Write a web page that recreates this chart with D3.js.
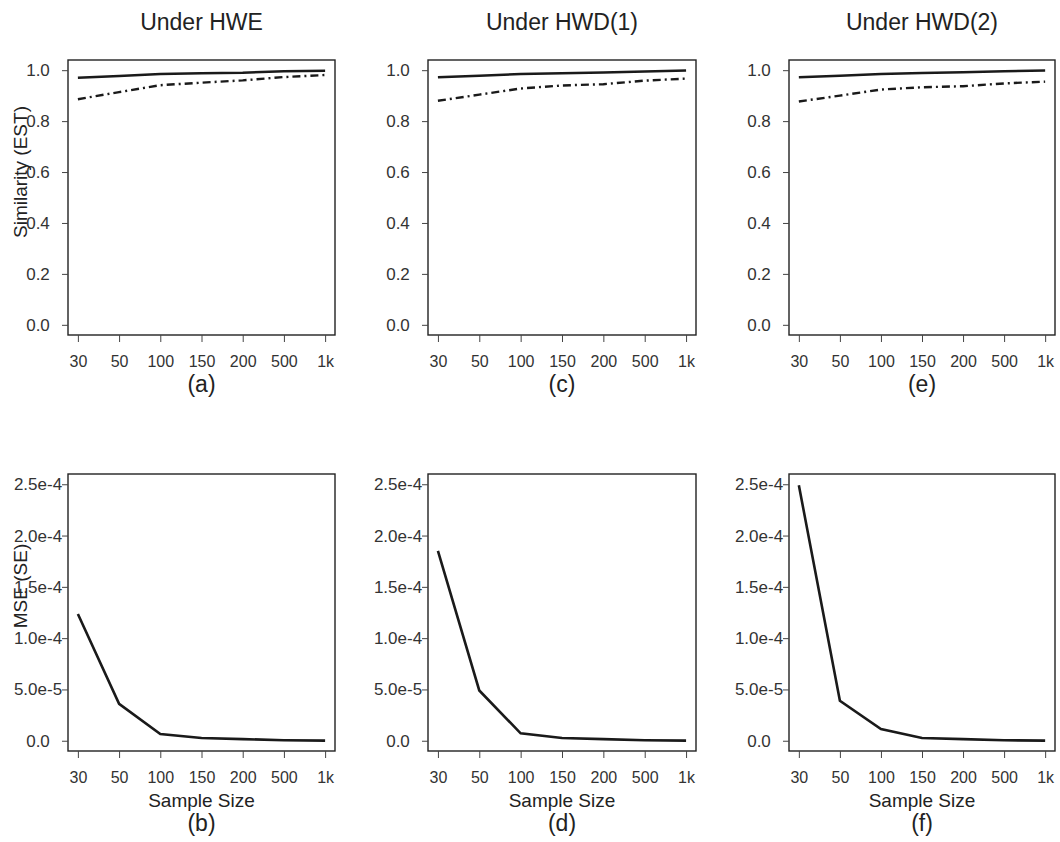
<!DOCTYPE html>
<meta charset="utf-8">
<script src="https://d3js.org/d3.v7.min.js"></script>
<style>
  body { margin: 0; background: #fff; }
  text { font-family: "Liberation Sans", Arial, sans-serif; }
</style>
<div id="my_dataviz"></div>
<script>

// sample sizes on the x axis
const sampleSizes = ["30", "50", "100", "150", "200", "500", "1k"];

// similarity (EST), solid and dot-dash lines
const estSolidHWE  = [0.970, 0.977, 0.985, 0.988, 0.990, 0.996, 0.998];
const estDashHWE   = [0.886, 0.914, 0.941, 0.951, 0.960, 0.973, 0.981];
const estSolidHWD1 = [0.972, 0.978, 0.985, 0.988, 0.991, 0.995, 0.999];
const estDashHWD1  = [0.880, 0.904, 0.928, 0.940, 0.945, 0.959, 0.967];
const estSolidHWD2 = [0.972, 0.978, 0.985, 0.989, 0.992, 0.996, 0.999];
const estDashHWD2  = [0.877, 0.900, 0.924, 0.933, 0.937, 0.948, 0.955];

// MSE (SE)
const mseHWE  = [1.235e-4, 3.6e-5, 6.5e-6, 2.6e-6, 1.6e-6, 0.5e-6, 0.1e-6];
const mseHWD1 = [1.85e-4, 4.9e-5, 7.2e-6, 2.6e-6, 1.6e-6, 0.5e-6, 0.1e-6];
const mseHWD2 = [2.49e-4, 3.9e-5, 1.14e-5, 2.6e-6, 1.6e-6, 0.5e-6, 0.1e-6];

// tick labels
const estTicks = [0, 0.2, 0.4, 0.6, 0.8, 1.0];
const estTickLabels = ["0.0", "0.2", "0.4", "0.6", "0.8", "1.0"];
const mseTicks = [0, 5e-5, 1e-4, 1.5e-4, 2e-4, 2.5e-4];
const mseTickLabels = ["0.0", "5.0e-5", "1.0e-4", "1.5e-4", "2.0e-4", "2.5e-4"];

const titles = ["Under HWE", "Under HWD(1)", "Under HWD(2)"];
const topLetters = ["(a)", "(c)", "(e)"];
const bottomLetters = ["(b)", "(d)", "(f)"];

const estSeries = [[estSolidHWE, estDashHWE], [estSolidHWD1, estDashHWD1], [estSolidHWD2, estDashHWD2]];
const mseSeries = [mseHWE, mseHWD1, mseHWD2];

// layout
const W = 1060, H = 842;
const colLeft = [68, 428, 789];
const colRight = [335, 696, 1055];
const topRow = { top: 60, bottom: 335 };
const botRow = { top: 474, bottom: 751 };
const ink = "#1a1a1a";

const svg = d3.select("#my_dataviz")
  .append("svg")
  .attr("width", W)
  .attr("height", H);

function panel(col, row, yMax, ticks, tickLabels, series, dashed) {
  const left = colLeft[col], right = colRight[col];
  const pad = 0.04;
  const x = d3.scaleLinear()
    .domain([-pad * 6, 6 + pad * 6])
    .range([left, right]);
  const y = d3.scaleLinear()
    .domain([-pad * yMax, yMax * (1 + pad)])
    .range([row.bottom, row.top]);

  // frame
  svg.append("rect")
    .attr("x", left).attr("y", row.top)
    .attr("width", right - left).attr("height", row.bottom - row.top)
    .attr("fill", "none").attr("stroke", "#222").attr("stroke-width", 1.4);

  // y axis
  const ya = svg.append("g")
    .attr("transform", `translate(${left},0)`)
    .call(d3.axisLeft(y).tickValues(ticks).tickSize(6)
      .tickFormat((d, i) => tickLabels[i]));
  ya.select(".domain").remove();
  ya.selectAll(".tick line").attr("stroke", "#444");
  ya.selectAll(".tick text")
    .attr("x", -30).attr("text-anchor", "middle")
    .style("font-size", "17px").attr("fill", "#333")
    .attr("font-family", null);

  // x axis
  const xa = svg.append("g")
    .attr("transform", `translate(0,${row.bottom})`)
    .call(d3.axisBottom(x).tickValues(d3.range(7)).tickSize(7).tickPadding(14)
      .tickFormat(i => sampleSizes[i]));
  xa.select(".domain").remove();
  xa.selectAll(".tick line").attr("stroke", "#444");
  xa.selectAll(".tick text")
    .style("font-size", "16px").attr("fill", "#333")
    .attr("font-family", null);

  const line = d3.line().x((d, i) => x(i)).y(d => y(d));
  series.forEach((s, k) => {
    svg.append("path")
      .datum(s)
      .attr("d", line)
      .attr("fill", "none")
      .attr("stroke", ink)
      .attr("stroke-width", k === 0 ? 2.6 : 2.4)
      .attr("stroke-dasharray", dashed && k === 1 ? "8,4,2,4" : null);
  });
}

for (let c = 0; c < 3; c++) {
  panel(c, topRow, 1, estTicks, estTickLabels, estSeries[c], true);
  panel(c, botRow, 2.5e-4, mseTicks, mseTickLabels, [mseSeries[c]], false);

  const cx = (colLeft[c] + colRight[c]) / 2;
  svg.append("text")
    .attr("x", cx).attr("y", 30)
    .attr("text-anchor", "middle")
    .style("font-size", "23px").attr("fill", "#222")
    .text(titles[c]);
  svg.append("text")
    .attr("x", cx).attr("y", 392)
    .attr("text-anchor", "middle")
    .style("font-size", "23px").attr("fill", "#222")
    .text(topLetters[c]);
  svg.append("text")
    .attr("x", cx).attr("y", 807)
    .attr("text-anchor", "middle")
    .style("font-size", "19px").attr("fill", "#222")
    .text("Sample Size");
  svg.append("text")
    .attr("x", cx).attr("y", 831)
    .attr("text-anchor", "middle")
    .style("font-size", "23px").attr("fill", "#222")
    .text(bottomLetters[c]);
}

// y axis titles
svg.append("text")
  .attr("transform", "translate(27,172) rotate(-90)")
  .attr("text-anchor", "middle")
  .style("font-size", "19px").attr("fill", "#222")
  .text("Similarity (EST)");
svg.append("text")
  .attr("transform", "translate(27,586) rotate(-90)")
  .attr("text-anchor", "middle")
  .style("font-size", "19px").attr("fill", "#222")
  .text("MSE (SE)");

</script>
